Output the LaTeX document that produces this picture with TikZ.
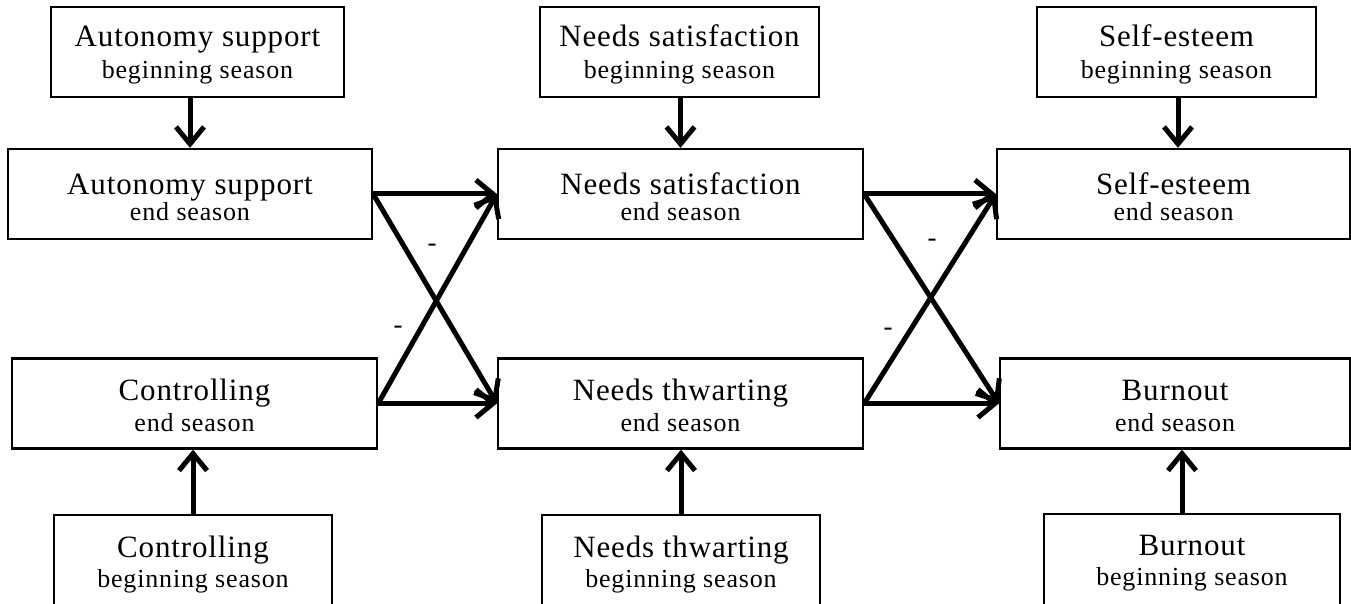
\documentclass[tikz,border=0pt]{standalone}
\usepackage{fontspec}
\setmainfont{Liberation Serif}
\newfontfamily\boxfontbig[LetterSpace=2.8]{Liberation Serif}
\newfontfamily\boxfontsmall[LetterSpace=3.2]{Liberation Serif}
\usetikzlibrary{arrows.meta}

\newcommand\boxbig{\boxfontbig\fontsize{31}{31}\selectfont}
\newcommand\boxsmall{\boxfontsmall\fontsize{26}{26}\selectfont}
% two centred lines with fixed baseline positions:
% #1 box height, #2 first baseline from top, #3 baseline gap, #4 #5 the lines
\newcommand\boxlines[5]{%
  \vbox to #1{\offinterlineskip
    \halign{\hfil##\hfil\cr
      \noalign{\kern #2}
      \smash{\boxbig #4}\cr
      \noalign{\kern #3}
      \smash{\boxsmall #5}\cr
      \noalign{\vfil}}}}

\begin{document}
\begin{tikzpicture}[x=1pt,y=-1pt,
  box/.style={draw, line width=2.3pt, rectangle, inner sep=0pt, minimum height=90pt},
  arr/.style={line width=5pt, -{Straight Barb[length=17pt,width=28pt]}},
  minus/.style={font=\fontsize{27}{27}\selectfont, inner sep=0pt}]
\useasboundingbox (0,0) rectangle (1351,604);
\clip (0,0) rectangle (1351,604);

% beginning-of-season measures (top row)
\node[box, minimum width=293pt] (asb) at (197.5,52)
  {\boxlines{90pt}{39.7pt}{31.5pt}{Autonomy support}{beginning season}};
\node[box, minimum width=279pt] (nsb) at (679.5,52)
  {\boxlines{90pt}{39.7pt}{31.5pt}{Needs satisfaction}{beginning season}};
\node[box, minimum width=279pt] (seb) at (1176.5,52)
  {\boxlines{90pt}{39.7pt}{31.5pt}{Self-esteem}{beginning season}};

% end-of-season measures
\node[box, minimum width=364pt] (ase) at (190,194)
  {\boxlines{90pt}{45.7pt}{25.5pt}{Autonomy support}{end season}};
\node[box, minimum width=365pt] (nse) at (680.5,194)
  {\boxlines{90pt}{45.7pt}{25.5pt}{Needs satisfaction}{end season}};
\node[box, minimum width=353pt] (see) at (1173.5,194)
  {\boxlines{90pt}{45.7pt}{25.5pt}{Self-esteem}{end season}};

\node[box, minimum width=365pt] (ce) at (194.5,403.5)
  {\boxlines{90pt}{42pt}{31pt}{Controlling}{end season}};
\node[box, minimum width=365pt] (nte) at (680.5,403.5)
  {\boxlines{90pt}{42pt}{31pt}{Needs thwarting}{end season}};
\node[box, minimum width=350pt] (be) at (1175,403.5)
  {\boxlines{90pt}{42pt}{31pt}{Burnout}{end season}};

% beginning-of-season measures (bottom row, running off the page)
\node[box, minimum width=278pt, minimum height=96pt, anchor=north] (cb) at (193,514)
  {\boxlines{96pt}{42.7pt}{29.5pt}{Controlling}{beginning season}};
\node[box, minimum width=278pt, minimum height=96pt, anchor=north] (ntb) at (681,514)
  {\boxlines{96pt}{42.7pt}{29.5pt}{Needs thwarting}{beginning season}};
\node[box, minimum width=296pt, minimum height=96pt, anchor=north] (bb) at (1192,512.5)
  {\boxlines{96pt}{42pt}{29.5pt}{Burnout}{beginning season}};

% stability paths
\draw[arr] (asb.south -| ase.north) -- (ase.north);
\draw[arr] (nsb.south -| nse.north) -- (nse.north);
\draw[arr] ([xshift=1.5pt]seb.south) -- ([xshift=1.5pt]seb.south |- see.north);
\draw[arr] (cb.north) -- (cb.north |- ce.south);
\draw[arr] (ntb.north) -- (ntb.north |- nte.south);
\draw[arr] ([xshift=-10pt]bb.north) -- ([xshift=-10pt]bb.north |- be.south);

% coaching -> needs
\draw[arr] (ase.east) -- (nse.west);
\draw[arr] (ase.east) -- (nte.west);
\draw[arr] (ce.east) -- (nte.west);
\draw[arr] (ce.east) -- (nse.west);

% needs -> outcomes
\draw[arr] (nse.east) -- (see.west);
\draw[arr] (nse.east) -- (be.west);
\draw[arr] (nte.east) -- (be.west);
\draw[arr] (nte.east) -- (see.west);

% negative path signs
\node[minus] (m1) at (432,248) {-};
\node[minus] (m2) at (398,330) {-};
\node[minus] (m3) at (932,243) {-};
\node[minus] (m4) at (888,332) {-};
\end{tikzpicture}
\end{document}
